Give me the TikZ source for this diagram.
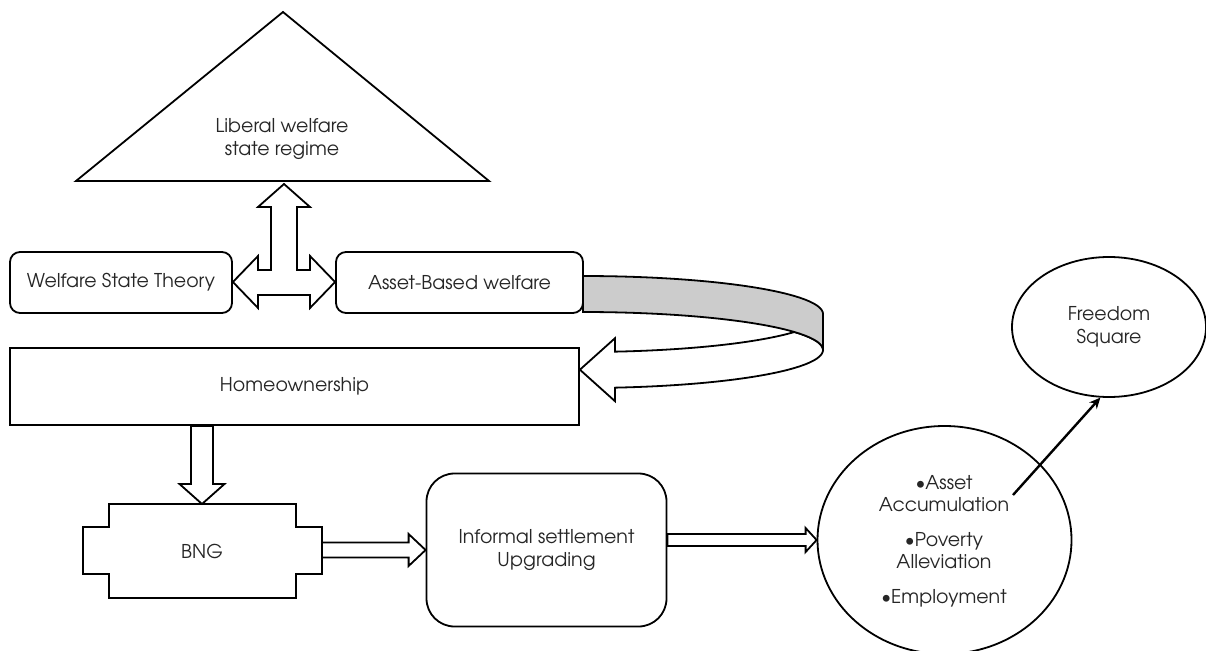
\documentclass[tikz,border=0pt]{standalone}
\usepackage{fontspec}
\setmainfont{texgyreadventor}[Extension=.otf, UprightFont=*-regular, BoldFont=*-bold]
\usetikzlibrary{shapes.geometric,arrows.meta,calc}
\newcommand{\blockarrow}[5]{%
  \draw[fill=white] let \p1=($(#2)-(#1)$), \n1={atan2(\y1,\x1)}, \n2={veclen(\x1,\y1)} in
    [shift={(#1)}, rotate=\n1] (0,#3) -- ({\n2-#5},#3) -- ({\n2-#5},#4) -- (\n2,0)
    -- ({\n2-#5},-#4) -- ({\n2-#5},-#3) -- (0,-#3) -- cycle;}
\begin{document}
\begin{tikzpicture}[x=1pt,y=-1pt, line width=1.8pt, line join=miter,
  txt/.style={font=\fontsize{19}{22.5}\selectfont, text=black!85, align=center},
  rbox/.style={draw, fill=white, rounded corners=10pt, txt, inner sep=0pt},
  sbox/.style={draw, fill=white, txt, inner sep=0pt},
  oval/.style={draw, fill=white, ellipse, txt, inner sep=0pt},
  band/.style={draw, fill=gray!40},
  thin arrow/.style={line width=2.4pt, -{Stealth[length=11pt,width=10pt]}}]
\useasboundingbox (0,0) rectangle (1206,650);

% triangle
\draw[fill=white] (283,12) -- (489,181) -- (76,181) -- cycle;
\node[txt] (liberal) at (282,139) {Liberal welfare\\state regime};

% boxes
\node[rbox, minimum width=222pt, minimum height=61pt] (welfare) at (121,282.5) {Welfare State Theory};
\node[rbox, minimum width=247pt, minimum height=61pt] (asset) at (459.5,282.5) {Asset-Based welfare};
\node[sbox, minimum width=569pt, minimum height=77pt] (home) at (294.5,386.5) {Homeownership};
\node[rbox, rounded corners=28pt, minimum width=240pt, minimum height=153pt] (informal) at (546.5,550) {Informal settlement\\Upgrading};

% BNG shape
\draw[fill=white] (109,504) -- (296,504) -- (296,527) -- (322,527) -- (322,574) -- (296,574)
  -- (296,598) -- (109,598) -- (109,574) -- (83,574) -- (83,527) -- (109,527) -- cycle;
\node[txt] (bng) at (202,551) {BNG};
\coordinate (bngtop) at (202,504);
\coordinate (bngright) at (322,550);

% ovals
\node[oval, minimum width=254pt, minimum height=228pt] (result) at (944.5,540) {};
\node[txt] (outcomes) at (944,541) {•Asset\\Accumulation\\[12pt]•Poverty\\Alleviation\\[12pt]•Employment};
\node[oval, minimum width=194pt, minimum height=140pt] (freedom) at (1109,327) {Freedom\\Square};

% three-way block arrow
\draw[fill=white] (284,184) -- (310,207) -- (297,207) -- (297,270) -- (310,270) -- (310,256)
  -- (asset.west |- 336,282) -- (310,308) -- (310,295) -- (258,295) -- (258,308)
  -- (welfare.east |- 232,282) -- (258,256) -- (258,270) -- (271,270) -- (271,207) -- (258,207) -- cycle;

% curved arrow from Asset-Based welfare to Homeownership
\draw[fill=white] plot[domain=-28.27:-82.34, samples=40] ({583+240*cos(\x)},{314-38*sin(\x)})
  -- (615,338.2) -- (home.east |- 581,369.7) -- (615,401.2)
  -- plot[domain=-82.34:0, samples=40] ({583+240*cos(\x)},{350-38*sin(\x)})
  -- plot[domain=0:28.27, samples=20] ({583+240*cos(\x)},{350-38*sin(\x)}) -- cycle;
\draw[band] plot[domain=90:0, samples=50] ({583+240*cos(\x)},{314-38*sin(\x)})
  -- plot[domain=0:90, samples=50] ({583+240*cos(\x)},{350-38*sin(\x)}) -- cycle;

% straight block arrows
\blockarrow{home.south -| bngtop}{bngtop}{11}{22.5}{20}
\blockarrow{bngright |- informal.west}{informal.west}{7.5}{16}{17}
\blockarrow{informal.east |- result.west}{result.west}{6}{12}{11}

% arrow to Freedom Square
\coordinate (accend) at (1013,495);
\draw[thin arrow] (accend) -- (freedom.263);
\end{tikzpicture}
\end{document}
